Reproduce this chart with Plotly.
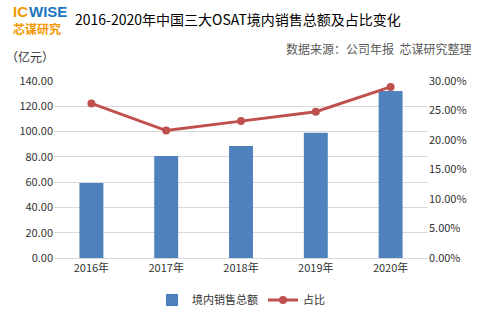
import plotly.graph_objects as go

years = ["2016年", "2017年", "2018年", "2019年", "2020年"]
sales = [59.3, 80.6, 88.5, 99.0, 132.1]          # 境内销售总额（亿元）
share = [0.262, 0.216, 0.232, 0.248, 0.290]      # 占比

left_ticks = [0, 20, 40, 60, 80, 100, 120, 140]
right_ticks = [0, 0.05, 0.10, 0.15, 0.20, 0.25, 0.30]

font_family = "Noto Sans CJK SC, Noto Sans, sans-serif"
logo_font = "Liberation Sans, Arial, sans-serif"

W, H = 490, 323
L, R, T, B = 54, 62, 81, 65
PW, PH = W - L - R, H - T - B


def px(x):
    return (x - L) / PW


def py(y):
    return 1 - (y - T) / PH


fig = go.Figure()
fig.add_trace(go.Bar(
    x=years, y=sales, name="境内销售总额",
    marker=dict(color="#4F81BD", line=dict(width=0)),
    width=0.32,
))
fig.add_trace(go.Scatter(
    x=years, y=share, name="占比", yaxis="y2",
    mode="lines+markers",
    line=dict(color="#C0504D", width=3),
    marker=dict(color="#C0504D", size=8),
))

fig.update_layout(
    width=W, height=H,
    margin=dict(l=L, r=R, t=T, b=B, autoexpand=False),
    paper_bgcolor="white", plot_bgcolor="white",
    font=dict(family=font_family, size=11, color="#333333"),
    showlegend=True,
    legend=dict(orientation="h", x=0.5, xanchor="center", y=py(300), yanchor="middle",
                font=dict(size=11, color="#333333"), traceorder="normal",
                itemwidth=30, tracegroupgap=0),
    xaxis=dict(
        showgrid=False, showline=True, linecolor="#D9D9D9", linewidth=1,
        ticks="", tickfont=dict(size=11, color="#333333"), fixedrange=True,
    ),
    yaxis=dict(
        range=[0, 140], tickvals=left_ticks,
        ticktext=[f"{v:.2f}" for v in left_ticks],
        showgrid=True, gridcolor="#D9D9D9", gridwidth=1,
        zeroline=False, showline=False, ticks="",
        tickfont=dict(size=11, color="#333333"),
    ),
    yaxis2=dict(
        range=[0, 0.30], tickvals=right_ticks,
        ticktext=[f"{v*100:.2f}%" for v in right_ticks],
        overlaying="y", side="right", showgrid=False,
        zeroline=False, showline=False, ticks="",
        tickfont=dict(size=11, color="#333333"),
    ),
)

# Logo
logo_parts = [
    dict(text="<b>IC</b>", x=28, y=11.5, anchor="right", color="#F39800",
         family=logo_font, size=15),
    dict(text="<b>WISE</b>", x=29, y=11.5, anchor="left", color="#1B75BC",
         family=logo_font, size=15),
    dict(text="<b>芯谋研究</b>", x=13, y=28, anchor="left", color="#F39800",
         family=font_family, size=12),
]
for part in logo_parts:
    fig.add_annotation(
        xref="paper", yref="paper", x=px(part["x"]), y=py(part["y"]),
        xanchor=part["anchor"], yanchor="middle", showarrow=False,
        borderpad=0, borderwidth=0, text=part["text"],
        font=dict(family=part["family"], size=part["size"], color=part["color"]),
    )

# Title
fig.add_annotation(
    xref="paper", yref="paper", x=px(73), y=py(19),
    xanchor="left", yanchor="middle", showarrow=False,
    text="2016-2020年中国三大OSAT境内销售总额及占比变化",
    font=dict(family=font_family, size=14, color="#000000"),
)
# Source
fig.add_annotation(
    xref="paper", yref="paper", x=px(473), y=py(48),
    xanchor="right", yanchor="middle", showarrow=False,
    text="数据来源：公司年报  芯谋研究整理",
    font=dict(family=font_family, size=12, color="#595959"),
)
# Unit
fig.add_annotation(
    xref="paper", yref="paper", x=px(4), y=py(56),
    xanchor="left", yanchor="middle", showarrow=False,
    text="（亿元）",
    font=dict(family=font_family, size=12, color="#333333"),
)

fig.write_html("out.html")
